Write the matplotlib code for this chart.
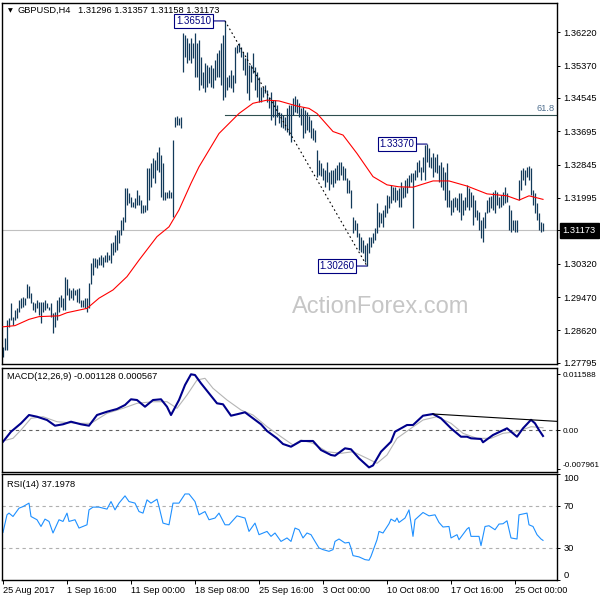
import numpy as np
import matplotlib
matplotlib.use("Agg")
import matplotlib.pyplot as plt

plt.rcParams['font.family'] = ['Liberation Sans', 'DejaVu Sans']

symbol = "GBPUSD,H4"
last_ohlc = ["1.31296", "1.31357", "1.31158", "1.31173"]
last_close = 1.31173

highs = [
    1.2820, 1.2842, 1.2888, 1.2893, 1.2931, 1.2897, 1.2914, 1.2918, 1.2939, 1.2944,
    1.2948, 1.2944, 1.2979, 1.2975, 1.2956, 1.2935, 1.2931, 1.2939, 1.2935, 1.2935,
    1.2935, 1.2939, 1.2931, 1.2922, 1.2931, 1.2905, 1.2910, 1.2939, 1.2948, 1.2952,
    1.2944, 1.2997, 1.2992, 1.2969, 1.2965, 1.2969, 1.2965, 1.2967, 1.2969, 1.2939,
    1.2939, 1.2944, 1.2944, 1.2982, 1.3033, 1.3046, 1.3047, 1.3043, 1.3050, 1.3054,
    1.3050, 1.3054, 1.3063, 1.3054, 1.3084, 1.3088, 1.3105, 1.3118, 1.3118, 1.3143,
    1.3152, 1.3224, 1.3224, 1.3211, 1.3203, 1.3190, 1.3199, 1.3220, 1.3207, 1.3194,
    1.3182, 1.3182, 1.3276, 1.3276, 1.3289, 1.3302, 1.3297, 1.3317, 1.3330, 1.3309,
    1.3289, 1.3215, 1.3215, 1.3220, 1.3215, 1.3347, 1.3407, 1.3409, 1.3403, 1.3407,
    1.3619, 1.3615, 1.3607, 1.3594, 1.3607, 1.3594, 1.3619, 1.3594, 1.3602, 1.3560,
    1.3522, 1.3543, 1.3539, 1.3534, 1.3539, 1.3530, 1.3551, 1.3568, 1.3577, 1.3594,
    1.3615, 1.3651, 1.3509, 1.3513, 1.3526, 1.3513, 1.3585, 1.3590, 1.3594, 1.3585,
    1.3573, 1.3556, 1.3573, 1.3539, 1.3539, 1.3568, 1.3534, 1.3522, 1.3509, 1.3483,
    1.3483, 1.3488, 1.3475, 1.3458, 1.3471, 1.3449, 1.3449, 1.3437, 1.3420, 1.3415,
    1.3411, 1.3407, 1.3429, 1.3437, 1.3437, 1.3455, 1.3460, 1.3452, 1.3442, 1.3429,
    1.3432, 1.3424, 1.3419, 1.3409, 1.3398, 1.3378, 1.3373, 1.3322, 1.3296, 1.3289,
    1.3276, 1.3271, 1.3291, 1.3266, 1.3271, 1.3271, 1.3276, 1.3284, 1.3291, 1.3291,
    1.3281, 1.3276, 1.3250, 1.3245, 1.3220, 1.3151, 1.3143, 1.3136, 1.3110, 1.3100,
    1.3092, 1.3080, 1.3085, 1.3100, 1.3100, 1.3110, 1.3123, 1.3187, 1.3164, 1.3161,
    1.3169, 1.3182, 1.3207, 1.3205, 1.3233, 1.3228, 1.3228, 1.3220, 1.3225, 1.3240,
    1.3228, 1.3245, 1.3250, 1.3258, 1.3263, 1.3263, 1.3271, 1.3291, 1.3296, 1.3279,
    1.3304, 1.3335, 1.3337, 1.3327, 1.3304, 1.3314, 1.3304, 1.3312, 1.3284, 1.3291,
    1.3279, 1.3266, 1.3289, 1.3220, 1.3194, 1.3199, 1.3202, 1.3199, 1.3212, 1.3212,
    1.3194, 1.3202, 1.3233, 1.3225, 1.3215, 1.3207, 1.3194, 1.3169, 1.3164, 1.3143,
    1.3151, 1.3164, 1.3194, 1.3202, 1.3205, 1.3215, 1.3220, 1.3215, 1.3202, 1.3207,
    1.3215, 1.3228, 1.3212, 1.3182, 1.3169, 1.3143, 1.3143, 1.3143, 1.3245, 1.3271,
    1.3276, 1.3271, 1.3279, 1.3281, 1.3276, 1.3220, 1.3212, 1.3187, 1.3161, 1.3138,
    1.31357,
]

lows = [
    1.2795, 1.2812, 1.2812, 1.2871, 1.2888, 1.2876, 1.2888, 1.2893, 1.2910, 1.2918,
    1.2922, 1.2927, 1.2944, 1.2944, 1.2931, 1.2914, 1.2910, 1.2918, 1.2901, 1.2880,
    1.2910, 1.2914, 1.2918, 1.2914, 1.2897, 1.2855, 1.2871, 1.2888, 1.2910, 1.2922,
    1.2914, 1.2914, 1.2952, 1.2939, 1.2944, 1.2939, 1.2952, 1.2935, 1.2931, 1.2922,
    1.2922, 1.2918, 1.2910, 1.2918, 1.2979, 1.3003, 1.3024, 1.3020, 1.3029, 1.3029,
    1.3024, 1.3037, 1.3037, 1.3041, 1.3033, 1.3054, 1.3063, 1.3067, 1.3084, 1.3105,
    1.3118, 1.3139, 1.3182, 1.3186, 1.3177, 1.3177, 1.3173, 1.3182, 1.3182, 1.3160,
    1.3160, 1.3165, 1.3169, 1.3194, 1.3228, 1.3251, 1.3238, 1.3271, 1.3266, 1.3202,
    1.3194, 1.3194, 1.3199, 1.3199, 1.3199, 1.3151, 1.3381, 1.3386, 1.3386, 1.3377,
    1.3522, 1.3560, 1.3543, 1.3551, 1.3543, 1.3556, 1.3509, 1.3509, 1.3475, 1.3488,
    1.3479, 1.3471, 1.3483, 1.3492, 1.3483, 1.3479, 1.3500, 1.3509, 1.3509, 1.3488,
    1.3449, 1.3458, 1.3475, 1.3483, 1.3479, 1.3471, 1.3492, 1.3568, 1.3573, 1.3560,
    1.3526, 1.3513, 1.3466, 1.3449, 1.3496, 1.3517, 1.3475, 1.3458, 1.3445, 1.3445,
    1.3458, 1.3466, 1.3445, 1.3428, 1.3398, 1.3407, 1.3386, 1.3407, 1.3390, 1.3381,
    1.3377, 1.3373, 1.3368, 1.3360, 1.3342, 1.3411, 1.3419, 1.3416, 1.3406, 1.3386,
    1.3352, 1.3365, 1.3373, 1.3368, 1.3352, 1.3347, 1.3342, 1.3253, 1.3258, 1.3256,
    1.3245, 1.3228, 1.3240, 1.3220, 1.3235, 1.3228, 1.3238, 1.3245, 1.3245, 1.3258,
    1.3245, 1.3245, 1.3212, 1.3212, 1.3174, 1.3110, 1.3118, 1.3100, 1.3067, 1.3062,
    1.3059, 1.3036, 1.3026, 1.3059, 1.3075, 1.3085, 1.3092, 1.3110, 1.3126, 1.3136,
    1.3126, 1.3151, 1.3161, 1.3174, 1.3187, 1.3194, 1.3189, 1.3194, 1.3177, 1.3177,
    1.3199, 1.3202, 1.3212, 1.3228, 1.3240, 1.3123, 1.3245, 1.3253, 1.3266, 1.3245,
    1.3266, 1.3245, 1.3291, 1.3279, 1.3276, 1.3253, 1.3266, 1.3263, 1.3240, 1.3228,
    1.3220, 1.3194, 1.3177, 1.3177, 1.3156, 1.3164, 1.3177, 1.3169, 1.3164, 1.3143,
    1.3156, 1.3169, 1.3177, 1.3169, 1.3177, 1.3131, 1.3151, 1.3143, 1.3118, 1.3098,
    1.3087, 1.3123, 1.3161, 1.3164, 1.3174, 1.3169, 1.3161, 1.3182, 1.3174, 1.3177,
    1.3182, 1.3187, 1.3189, 1.3118, 1.3113, 1.3118, 1.3113, 1.3113, 1.3194, 1.3220,
    1.3245, 1.3233, 1.3253, 1.3245, 1.3207, 1.3182, 1.3161, 1.3143, 1.3118, 1.3113,
    1.31158,
]

ma_idx = [0, 6, 13, 18, 28, 32, 42, 48, 55, 62, 68, 77, 83, 88, 94, 98, 108, 118, 125, 132,
          138, 147, 153, 157, 165, 170, 177, 185, 192, 198, 205, 215, 223, 232, 242, 252, 258, 263, 270]
ma_val = [1.2871, 1.2874, 1.2890, 1.2897, 1.2899, 1.2907, 1.2918, 1.2944, 1.2965, 1.2999,
          1.3041, 1.3101, 1.3126, 1.3169, 1.3237, 1.3279, 1.3364, 1.3415, 1.3441, 1.3449,
          1.3447, 1.3434, 1.3428, 1.3415, 1.3369, 1.3360, 1.3313, 1.3254, 1.3233, 1.3228,
          1.3227, 1.3243, 1.3243, 1.3230, 1.3210, 1.3205, 1.3194, 1.3205, 1.3196]

macd_idx = [0, 4, 9, 13, 17, 22, 26, 30, 34, 39, 43, 47, 52, 57, 61, 64, 67, 71, 75, 79,
            82, 84, 88, 91, 94, 96, 99, 103, 107, 110, 114, 117, 121, 125, 129, 132, 137, 140, 144, 149,
            155, 159, 164, 166, 171, 174, 178, 183, 185, 189, 194, 196, 202, 205, 210, 215, 219, 224, 229, 232,
            234, 239, 240, 245, 252, 257, 260, 264, 266, 268, 270]
macd_val = [-0.00231, -0.00025, 0.00148, 0.00319, 0.00284, 0.00216, 0.00099, 0.00128, 0.00181, 0.00128,
            0.00099, 0.00319, 0.00387, 0.00443, 0.00525, 0.00643, 0.00628, 0.00490, 0.00628, 0.00643,
            0.00490, 0.00319, 0.00628, 0.00937, 0.01158, 0.01143, 0.00972, 0.00766, 0.00560, 0.00540,
            0.00305, 0.00334, 0.00375, 0.00251, 0.00128, -0.00010, -0.00161, -0.00278, -0.00334, -0.00216,
            -0.00216, -0.00402, -0.00505, -0.00519, -0.00367, -0.00387, -0.00573, -0.00760, -0.00720, -0.00437,
            -0.00231, -0.00025, 0.00113, 0.00113, 0.00305, 0.00340, 0.00251, 0.00045, -0.00128, -0.00128,
            -0.00161, -0.00175, -0.00243, -0.00093, 0.00045, -0.00128, 0.00045, 0.00220, 0.00148, 0.00010,
            -0.00113]

sig_idx = [0, 5, 9, 14, 20, 27, 37, 44, 52, 60, 67, 75, 82, 87, 92, 97, 101, 105, 112, 119,
           125, 132, 139, 145, 149, 155, 162, 169, 175, 182, 187, 192, 197, 204, 210, 217, 224, 230, 237, 244,
           250, 257, 264, 270]
sig_val = [-0.00216, -0.00161, 0.00010, 0.00251, 0.00284, 0.00181, 0.00148, 0.00148, 0.00354, 0.00457,
           0.00560, 0.00593, 0.00593, 0.00457, 0.00731, 0.01040, 0.01075, 0.00869, 0.00628, 0.00422,
           0.00319, 0.00078, -0.00128, -0.00299, -0.00196, -0.00264, -0.00437, -0.00470, -0.00437, -0.00573,
           -0.00676, -0.00505, -0.00161, 0.00045, 0.00216, 0.00284, 0.00148, -0.00058, -0.00161, -0.00161,
           -0.00058, -0.00025, 0.00078, 0.00057]

rsi_idx = [0, 2, 3, 5, 8, 10, 13, 14, 17, 19, 21, 23, 25, 28, 30, 32, 33, 36, 38, 42,
           43, 45, 48, 52, 54, 56, 58, 61, 63, 66, 68, 70, 72, 74, 77, 78, 80, 83, 85, 88,
           91, 93, 96, 98, 101, 103, 106, 108, 111, 113, 117, 121, 123, 126, 128, 132, 134, 136, 139, 142,
           144, 146, 148, 150, 152, 154, 156, 158, 160, 163, 165, 166, 168, 171, 173, 174, 175, 178, 181, 183,
           184, 187, 188, 190, 193, 194, 196, 197, 198, 201, 203, 205, 206, 210, 213, 216, 218, 220, 223, 224,
           227, 228, 232, 233, 234, 238, 239, 241, 243, 246, 248, 250, 252, 254, 257, 258, 262, 263, 265, 267,
           269, 270]
rsi_val = [44.8, 61.5, 63.1, 59.9, 67.8, 69.3, 72.6, 59.9, 56.8, 50.4, 57.4, 55.2, 44.2, 56.8, 55.2, 63.1, 55.2, 56.8, 48.9, 52.0,
           66.2, 68.8, 68.8, 66.9, 74.1, 66.2, 72.6, 79.5, 74.1, 72.6, 64.6, 63.1, 75.7, 72.6, 76.3, 69.3, 53.6, 52.0, 72.6, 72.6,
           81.3, 81.3, 74.1, 61.5, 64.6, 56.8, 58.4, 63.1, 52.0, 52.0, 60.5, 58.4, 45.7, 53.6, 42.6, 45.7, 41.0, 44.2, 36.2, 39.5,
           36.2, 48.9, 47.3, 39.5, 44.2, 42.6, 36.2, 30.0, 28.4, 26.8, 28.4, 36.2, 38.5, 34.7, 35.3, 30.0, 22.7, 21.5, 18.9, 18.3,
           22.1, 37.8, 45.7, 44.2, 53.0, 57.4, 55.2, 58.4, 54.2, 58.4, 66.2, 41.0, 56.8, 63.7, 60.5, 61.5, 54.2, 49.9, 50.4, 39.5,
           42.6, 37.8, 48.0, 49.5, 41.0, 41.0, 32.2, 50.4, 51.1, 47.3, 52.7, 53.0, 55.8, 39.5, 38.5, 61.5, 63.1, 52.0, 50.4, 42.6,
           38.5, 37.2]

xtick_idx = [0, 32, 64, 96, 128, 160, 192, 224, 256]
xtick_labels = ["25 Aug 2017", "1 Sep 16:00", "11 Sep 00:00", "18 Sep 08:00", "25 Sep 16:00",
                "3 Oct 00:00", "10 Oct 08:00", "17 Oct 16:00", "25 Oct 00:00"]
price_ticks = [1.36220, 1.35370, 1.34545, 1.33695, 1.32845, 1.31995, 1.30320, 1.29470, 1.28620, 1.27795]
macd_ticks = [0.011588, 0.0, -0.007961]
macd_tick_labels = ["0.011588", "0.00", "-0.007961"]
rsi_ticks = [100, 70, 30, 0]
rsi_levels = [70, 30]
macd_title = "MACD(12,26,9) -0.001128 0.000567"
rsi_title = "RSI(14) 37.1978"

swing_high_idx = 111
swing_low_idx = 182
swing_mid_idx = 212
fib_ratio = 0.618
macd_peak_a, macd_peak_b = 55, 67   # positions in macd arrays used for the trend line

BAR = '#123a5a'
NAVY = '#000080'
FS = 6.7

fig = plt.figure(figsize=(6, 6), dpi=100)


def rect(top, bottom, left=2.3, right=556.7):
    return [left / 600, 1 - bottom / 600, (right - left) / 600, (bottom - top) / 600]


ax1 = fig.add_axes(rect(2.7, 364.3))
ax2 = fig.add_axes(rect(368.0, 472.3))
ax3 = fig.add_axes(rect(474.3, 579.5))

n = len(highs)
xs = np.arange(n)
xmin, xmax = -0.35, 276.85
for ax in (ax1, ax2, ax3):
    ax.set_xlim(xmin, xmax)
    for s in ax.spines.values():
        s.set_linewidth(1.0)
        s.set_color('black')
    ax.yaxis.tick_right()
    ax.tick_params(axis='y', direction='out', length=2.5, width=0.7, pad=2.5,
                   labelsize=FS, colors='black')
    ax.tick_params(axis='x', bottom=False, labelbottom=False)

# ---------------- price panel ----------------
ax1.set_ylim(1.27754, 1.36975)
ax1.axhline(last_close, color='#c0c0c0', lw=0.8, zorder=0)
ax1.text(0.683, 0.1585, "ActionForex.com", transform=ax1.transAxes, ha='center', va='center',
         fontsize=17, color='#c6c6c6', zorder=0)
ax1.vlines(xs, lows, highs, color=BAR, lw=0.9, zorder=2)
ax1.plot(ma_idx, ma_val, color='#ff0000', lw=0.8, zorder=3)

hi = highs[swing_high_idx]
lo = lows[swing_low_idx]
fib = lo + fib_ratio * (hi - lo)
ax1.plot([swing_high_idx, xmax], [fib, fib], color='#2f4f4f', lw=0.8, zorder=1)
ax1.annotate("61.8", xy=(xmax, fib), xytext=(-1.5, 1.2), textcoords='offset points',
             ha='right', va='bottom', fontsize=FS, color='#4f6f8f')
ax1.plot([swing_high_idx, swing_low_idx], [hi, lo], color='black', lw=0.8,
         ls=(0, (1.5, 2.5)), zorder=4)


def swing_label(i, price, off_pt):
    ax1.annotate(f"{price:.5f}", xy=(i, price), xytext=(-off_pt, 0), textcoords='offset points',
                 ha='right', va='center', fontsize=FS + 0.3, color=NAVY, zorder=6,
                 bbox=dict(boxstyle='square,pad=0.18', fc='white', ec=NAVY, lw=0.8),
                 arrowprops=dict(arrowstyle='-', color=NAVY, lw=0.8, shrinkA=0, shrinkB=0))


swing_label(swing_high_idx, hi, 10)
swing_label(swing_mid_idx, highs[swing_mid_idx], 9)
swing_label(swing_low_idx, lo, 9)

ax1.set_yticks(price_ticks + [last_close])
ax1.set_yticklabels([f"{v:.5f}" for v in price_ticks] + [""])
ax1.annotate(f"{last_close:.5f}", xy=(1, last_close), xycoords=ax1.get_yaxis_transform(),
             xytext=(4.3, 0), textcoords='offset points', ha='left', va='center',
             fontsize=FS, color='white', annotation_clip=False,
             bbox=dict(boxstyle='square,pad=0.3', fc='black', ec='black'))

ax1.text(0.0139, 0.978, "\u25BC", transform=ax1.transAxes, ha='center', va='center',
         fontsize=4.5, color='black', family=['DejaVu Sans'])
ax1.text(0.0283, 0.978, symbol, transform=ax1.transAxes, ha='left', va='center',
         fontsize=FS, color='black')
ax1.text(0.1372, 0.978, " ".join(last_ohlc), transform=ax1.transAxes, ha='left', va='center',
         fontsize=FS, color='black')

# ---------------- MACD panel ----------------
ax2.set_ylim(-0.008611, 0.012875)
ax2.axhline(0, color='#606060', lw=0.8, ls=(0, (3, 3)))
ax2.plot(sig_idx, sig_val, color='#b5b5b5', lw=0.8)
ax2.plot(macd_idx, macd_val, color='#00008b', lw=1.5)
xa, ya = macd_idx[macd_peak_a], macd_val[macd_peak_a]
xb, yb = macd_idx[macd_peak_b], macd_val[macd_peak_b]
slope = (yb - ya) / (xb - xa)
ax2.plot([xa, xmax], [ya, ya + slope * (xmax - xa)], color='black', lw=0.8)
ax2.set_yticks(macd_ticks)
ax2.set_yticklabels(macd_tick_labels)
ax2.tick_params(axis='y', labelsize=5.9, pad=1.5)
ax2.get_yticklabels()[2].set_va('bottom')
ax2.text(0.0085, 0.914, macd_title, transform=ax2.transAxes, ha='left', va='center',
         fontsize=FS, color='black')

# ---------------- RSI panel ----------------
ax3.set_ylim(0, 100)
for lv in rsi_levels:
    ax3.axhline(lv, color='#b0b0b0', lw=0.8, ls=(0, (3, 3)))
ax3.plot(rsi_idx, rsi_val, color='#1e90ff', lw=0.8)
ax3.set_yticks(rsi_ticks)
ax3.set_yticklabels([str(v) for v in rsi_ticks])
ax3.get_yticklabels()[0].set_va('top')
ax3.get_yticklabels()[3].set_va('bottom')
ax3.text(0.0085, 0.907, rsi_title, transform=ax3.transAxes, ha='left', va='center',
         fontsize=FS, color='black')

ax3.set_xticks(xtick_idx)
ax3.set_xticklabels(xtick_labels)
ax3.tick_params(axis='x', bottom=True, labelbottom=True, direction='out', length=3,
                width=0.7, pad=1.5, labelsize=FS - 0.1, colors='black')
for lbl in ax3.get_xticklabels():
    lbl.set_ha('left')

fig.savefig("out.png", dpi=100)
